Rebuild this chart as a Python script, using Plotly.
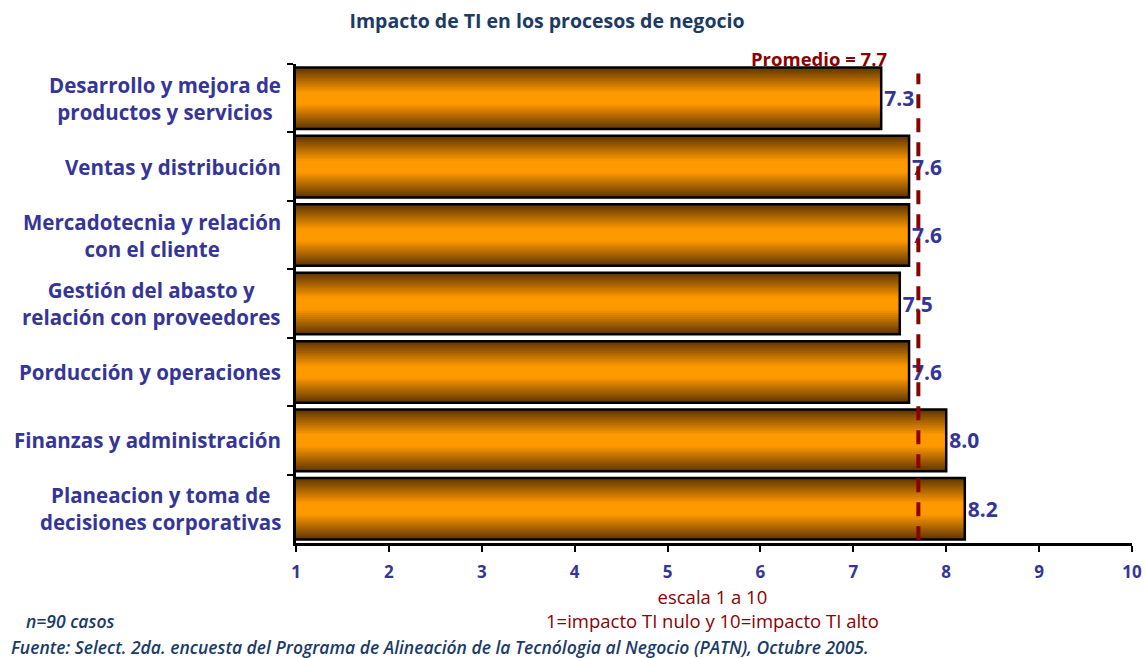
import plotly.graph_objects as go

# Survey results: IT impact score (1-10) per business process
procesos = [
    "Desarrollo y mejora de<br>productos y servicios",
    "Ventas y distribución",
    "Mercadotecnia y relación<br>con el cliente",
    "Gestión del abasto y<br>relación con proveedores",
    "Porducción y operaciones",
    "Finanzas y administración",
    "Planeacion y toma de<br>decisiones corporativas",
]
impacto = [7.3, 7.6, 7.6, 7.5, 7.6, 8.0, 8.2]
promedio = 7.7
x_ticks = [1, 2, 3, 4, 5, 6, 7, 8, 9, 10]

FONT = "Open Sans"
BLUE = "#353597"
NAVY = "#1b3a66"
RED = "#8b0000"

W, H = 1145, 658
ML, MR, MT, MB = 296, 13, 64, 115
PW, PH = W - ML - MR, H - MT - MB


def px_x(px):
    """Pixel column -> paper x."""
    return (px - ML) / PW


def px_y(py):
    """Pixel row -> paper y."""
    return (H - MB - py) / PH


fig = go.Figure()

# Cylinder-like shading: stacked overlaid bars, narrowing toward a bright core
dark = (100, 56, 0)
bright = (255, 153, 0)
n_layers = 16
full_w = 0.9
for k in range(n_layers):
    t = k / (n_layers - 1)
    t = min(1.0, t * 1.2)
    c = tuple(int(dark[i] + (bright[i] - dark[i]) * t) for i in range(3))
    w = full_w * (1 - k / n_layers)
    fig.add_trace(go.Bar(
        y=procesos, x=impacto, orientation="h", width=w,
        marker=dict(color=f"rgb{c}", line=dict(width=0)),
        hoverinfo="skip", showlegend=False,
    ))

# Outline + value labels
fig.add_trace(go.Bar(
    y=procesos, x=impacto, orientation="h", width=full_w,
    marker=dict(color="rgba(0,0,0,0)", line=dict(color="black", width=2.5)),
    text=[f"{v:.1f}" for v in impacto], textposition="outside",
    textfont=dict(family=FONT, size=21, color=BLUE, weight="bold"),
    cliponaxis=False, showlegend=False,
))

# Average reference line
fig.add_shape(
    type="line", xref="x", yref="paper", x0=promedio, x1=promedio,
    y0=0.006, y1=0.98, layer="above",
    line=dict(color=RED, width=4, dash="14px,10px"),
)
fig.add_annotation(
    x=promedio, xref="x", y=1.0, yref="paper", yanchor="middle",
    xanchor="right", xshift=-29, yshift=6,
    text=f"Promedio = {promedio}", showarrow=False,
    font=dict(family=FONT, size=18.5, color=RED, weight="bold"),
)

# Category labels, centered line by line
for name in procesos:
    fig.add_annotation(
        x=0, xref="paper", xanchor="right", xshift=-13,
        y=name, yref="y", showarrow=False, align="center",
        text=name, font=dict(family=FONT, size=20.5, color=BLUE, weight="bold"),
    )

# Scale explanation and footnotes
fig.add_annotation(
    x=px_x(712), xref="paper", y=px_y(583), yref="paper",
    xanchor="center", yanchor="top", align="center", showarrow=False,
    borderpad=0,
    text="escala 1 a 10<br>1=impacto TI nulo y 10=impacto TI alto",
    font=dict(family=FONT, size=18.5, color=RED, weight=500),
)
fig.add_annotation(
    x=px_x(25), xref="paper", y=px_y(621), yref="paper",
    xanchor="left", yanchor="middle", showarrow=False, borderpad=0,
    text="<i>n=90 casos</i>",
    font=dict(family=FONT, size=17.5, color=NAVY, weight=600),
)
fig.add_annotation(
    x=px_x(10), xref="paper", y=px_y(647), yref="paper",
    xanchor="left", yanchor="middle", showarrow=False, borderpad=0,
    text="<i>Fuente: Select. 2da. encuesta del Programa de Alineación de la Tecnólogia al Negocio (PATN), Octubre 2005.</i>",
    font=dict(family=FONT, size=17.5, color=NAVY, weight=600),
)

fig.update_layout(
    width=W, height=H,
    margin=dict(l=ML, r=MR, t=MT, b=MB, autoexpand=False),
    paper_bgcolor="white", plot_bgcolor="white",
    barmode="overlay",
    title=dict(
        text="Impacto de TI en los procesos de negocio",
        x=547 / W, xanchor="center",
        y=1 - 21 / H, yanchor="middle",
        font=dict(family=FONT, size=19.5, color=NAVY, weight="bold"),
    ),
    xaxis=dict(
        range=[1, 10], tickvals=x_ticks, ticktext=[str(v) for v in x_ticks],
        showgrid=False, zeroline=False, automargin=False,
        showline=True, linecolor="black", linewidth=2.5,
        ticks="outside", ticklen=6, tickwidth=2, tickcolor="black",
        ticklabelstandoff=6,
        tickfont=dict(family=FONT, size=17, color=BLUE, weight="bold"),
    ),
    yaxis=dict(
        autorange="reversed", showticklabels=False, showgrid=False,
        automargin=False,
        showline=True, linecolor="black", linewidth=2.5,
        ticks="outside", ticklen=6, tickwidth=2, tickcolor="black",
        tickson="boundaries",
    ),
)

fig.write_html("out.html")
